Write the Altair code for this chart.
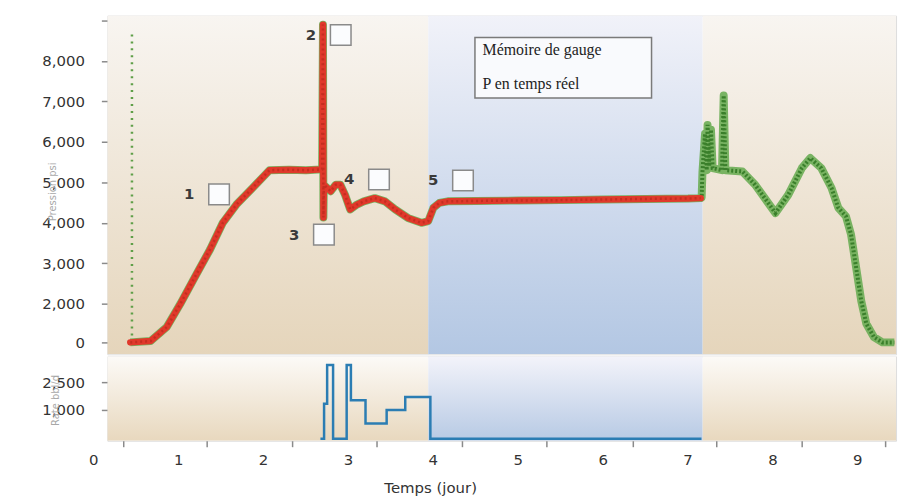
import altair as alt
import pandas as pd

# ---------------- data ----------------
# real-time pressure (red) : day, pressure
RED_D = [0.43, 0.67, 0.86, 1.02, 1.21, 1.37, 1.52, 1.68, 1.87, 2.07, 2.30, 2.50, 2.69,
         2.70, 2.705, 2.71, 2.79, 2.85, 2.905, 2.96, 3.02, 3.10, 3.18, 3.31, 3.43,
         3.55, 3.70, 3.86, 3.94, 4.00, 4.07, 4.17, 4.50, 5.00, 5.50, 6.00, 6.50, 7.00, 7.15]
RED_P = [0, 70, 790, 1990, 2730, 3340, 4000, 4450, 4860, 5300, 5310, 5300, 5320,
         8900, 4130, 4940, 4780, 4940, 4940, 4690, 4330, 4450, 4530, 4610, 4530,
         4330, 4120, 4000, 4040, 4370, 4490, 4530, 4540, 4550, 4560, 4575, 4590, 4600, 4610]
# gauge memory (green) continues after the real-time data stops
GREEN_TAIL_D = [7.16, 7.17, 7.20, 7.22, 7.23, 7.25, 7.27, 7.29, 7.40, 7.42, 7.44, 7.64, 7.79,
                8.03, 8.18, 8.34, 8.44, 8.57, 8.69, 8.77, 8.86, 8.92, 8.98, 9.04, 9.10,
                9.19, 9.29, 9.43]
GREEN_TAIL_P = [4620, 5270, 6200, 5300, 6420, 5400, 6300, 5350, 5300, 7150, 5300, 5270, 4940,
                4240, 4690, 5350, 5600, 5350, 4860, 4370, 4160, 3710, 2890, 2070, 960,
                270, 0, 0]
GREEN_START_D = [0.45, 0.45]
GREEN_START_P = [0, 8750]

# rate (bottom panel) step line
RATE_D = [2.67, 2.713, 2.749, 2.819, 2.979, 3.029, 3.201, 3.450, 3.669, 3.965, 7.158]
RATE_V = [0, 1337, 3427, 0, 3427, 1520, 528, 1000, 1696, 0, 0]

# shaded periods
REGION_X0 = [0.16, 3.94, 7.17]
REGION_X1 = [3.94, 7.17, 9.45]
REGION_KIND = ["beige", "blue", "beige"]

# numbered marker boxes
MARK_LABELS = ["1", "2", "3", "4", "5"]
MARK_D = [1.476, 2.909, 2.711, 3.360, 4.349]
MARK_P = [4702, 8644, 3707, 5070, 5045]

# legend box
LEGEND_LINES = ["Mémoire de gauge", "P en temps réel"]
LEGEND_TEXT_D = [4.58, 4.58]
LEGEND_TEXT_P = [8263, 7428]
LEGEND_BOX_D = [4.49, 6.57]
LEGEND_BOX_P = [7084, 8582]

# axes
X_MIN, X_MAX = 0.16, 9.45
X_LABELS = ["0", "1", "2", "3", "4", "5", "6", "7", "8", "9"]
X_LABEL_POS = [0, 1, 2, 3, 4, 5, 6, 7, 8, 9]
X_TICK_MARKS = [0.35, 1.33, 2.34, 3.33, 4.34, 5.33, 6.35, 7.33, 8.34, 9.32]
P_TICKS = [0, 2000, 3000, 4000, 5000, 6000, 7000, 8000, 9000]
P_TICK_LABELS = ["0", "2,000", "3,000", "4,000", "5,000", "6,000", "7,000", "8,000", ""]
R_TICKS = [1000, 2500]
R_TICK_LABELS = ["1,000", "2,500"]

# ---------------- layout ----------------
W = 794
H_TOP = 341
H_BOT = 85
FONT = "DejaVu Sans"

P_DOMAIN = [-615, 0, 2000, 9123]
P_RANGE = [H_TOP, 329, 290, 0]
R_DOMAIN = [-69, 0, 1000, 2500, 3893]
R_RANGE = [H_BOT, 83, 54, 26, 0]


def lookup_expr(values, labels):
    return ("[" + ",".join("'" + l + "'" for l in labels) + "][indexof(["
            + ",".join(str(v) for v in values) + "], datum.value)]")


x_scale = alt.Scale(domain=[X_MIN, X_MAX], nice=False, zero=False)
y_top_scale = alt.Scale(type="linear", domain=P_DOMAIN, range=P_RANGE, nice=False, zero=False)
y_bot_scale = alt.Scale(type="linear", domain=R_DOMAIN, range=R_RANGE, nice=False, zero=False)

y_top_axis = alt.Axis(values=P_TICKS, labelExpr=lookup_expr(P_TICKS, P_TICK_LABELS),
                      grid=False, domain=False, tickSize=6, tickColor="#8a8a8a", tickWidth=1.5,
                      labelFontSize=15, labelColor="#333333", labelPadding=17, labelFont=FONT,
                      minExtent=94, maxExtent=94,
                      title="Pression psi", titleX=-55, titleY=177, titleAngle=-90,
                      titleAlign="center", titleBaseline="middle", titleFontSize=10,
                      titleFontWeight="normal", titleColor="#a8a8a8", titleFont=FONT)
y_bot_axis = alt.Axis(values=R_TICKS, labelExpr=lookup_expr(R_TICKS, R_TICK_LABELS),
                      grid=False, domain=False, tickSize=6, tickColor="#8a8a8a", tickWidth=1.5,
                      labelFontSize=15, labelColor="#333333", labelPadding=17, labelFont=FONT,
                      minExtent=94, maxExtent=94,
                      title="Rate bbl/d", titleX=-52, titleY=44, titleAngle=-90,
                      titleAlign="center", titleBaseline="middle", titleFontSize=10,
                      titleFontWeight="normal", titleColor="#a8a8a8", titleFont=FONT)
x_bot_axis = alt.Axis(values=X_TICK_MARKS, labels=False, grid=False, domain=False,
                      tickSize=6, tickColor="#8a8a8a", tickWidth=1.5,
                      title="Temps (jour)", titleX=325, titleY=47, titleAlign="center",
                      titleBaseline="middle", titleFontSize=15, titleFontWeight="normal",
                      titleColor="#333333", titleFont=FONT)

# ---------------- frames ----------------
red_df = pd.DataFrame({"d": RED_D, "p": RED_P})
red_df["i"] = range(len(red_df))
green_df = pd.DataFrame({"d": RED_D + GREEN_TAIL_D, "p": RED_P + GREEN_TAIL_P})
green_df["i"] = range(len(green_df))
green_start_df = pd.DataFrame({"d": GREEN_START_D, "p": GREEN_START_P, "i": [0, 1]})
rate_df = pd.DataFrame({"d": RATE_D, "p": RATE_V})
region_df = pd.DataFrame({"x0": REGION_X0, "x1": REGION_X1, "kind": REGION_KIND})
mark_df = pd.DataFrame({"d": MARK_D, "p": MARK_P, "lab": MARK_LABELS})
legend_text_df = pd.DataFrame({"d": LEGEND_TEXT_D, "p": LEGEND_TEXT_P, "t": LEGEND_LINES})
legend_box_df = pd.DataFrame({"d": [LEGEND_BOX_D[0]], "d2": [LEGEND_BOX_D[1]],
                              "p": [LEGEND_BOX_P[0]], "p2": [LEGEND_BOX_P[1]]})
xlab_df = pd.DataFrame({"d": X_LABEL_POS, "lab": X_LABELS})


def grad(top, bottom):
    return alt.LinearGradient(gradient="linear", x1=0, x2=0, y1=0, y2=1,
                              stops=[alt.GradientStop(color=top, offset=0),
                                     alt.GradientStop(color=bottom, offset=1)])


def bg_layer(kind, fill, h, x_axis):
    return alt.Chart(region_df).transform_filter(alt.datum.kind == kind).mark_rect(
        fill=fill, clip=True).encode(
        x=alt.X("x0:Q", scale=x_scale, axis=x_axis),
        x2="x1:Q",
        y=alt.value(0), y2=alt.value(h))


XT = alt.X("d:Q", scale=x_scale, axis=None)
YT = alt.Y("p:Q", scale=y_top_scale, axis=y_top_axis)

top_layers = [
    bg_layer("beige", grad("#f8f5f1", "#e5d5bb"), H_TOP, None),
    bg_layer("blue", grad("#f1f2f9", "#b3c7e3"), H_TOP, None),
    alt.Chart(green_start_df).mark_line(color="#5f9f48", strokeWidth=2.5, strokeDash=[2, 5]).encode(
        x=XT, y=YT, order="i:Q"),
    alt.Chart(green_df).mark_line(color="#6cad55", strokeWidth=8, opacity=0.9,
                                  strokeJoin="round").encode(x=XT, y=YT, order="i:Q"),
    alt.Chart(green_df).mark_line(color="#3a7f2b", strokeWidth=4, strokeDash=[2, 2]).encode(
        x=XT, y=YT, order="i:Q"),
    alt.Chart(red_df).mark_line(color="#e0392b", strokeWidth=6.5, strokeJoin="round",
                                strokeCap="round").encode(x=XT, y=YT, order="i:Q"),
    alt.Chart(red_df).mark_line(color="#b8291d", strokeWidth=2.5, strokeDash=[2, 3],
                                opacity=0.7).encode(x=XT, y=YT, order="i:Q"),
    alt.Chart(legend_box_df).mark_rect(fill="#f9fafd", stroke="#7a7a7a", strokeWidth=1.5).encode(
        x=XT, x2="d2:Q", y=YT, y2="p2:Q"),
    alt.Chart(legend_text_df).mark_text(align="left", baseline="middle", font="Liberation Serif",
                                        fontSize=16, color="#222222").encode(
        x=XT, y=YT, text="t:N"),
    alt.Chart(mark_df).mark_square(size=430, filled=True, fill="#fbfcfe", stroke="#8a8a8a",
                                   strokeWidth=1.5, opacity=1).encode(x=XT, y=YT),
    alt.Chart(mark_df).mark_text(dx=-30, align="center", baseline="middle", font=FONT,
                                 fontSize=15, fontWeight="bold", color="#3a3a3a").encode(
        x=XT, y=YT, text="lab:N"),
]
top = alt.layer(*top_layers).properties(width=W, height=H_TOP)

XB = alt.X("d:Q", scale=x_scale, axis=x_bot_axis)
YB = alt.Y("p:Q", scale=y_bot_scale, axis=y_bot_axis)

bot_layers = [
    bg_layer("beige", grad("#fcfaf7", "#e8d8be"), H_BOT, x_bot_axis),
    bg_layer("blue", grad("#f3f3fa", "#b7cae4"), H_BOT, x_bot_axis),
    alt.Chart(rate_df).mark_line(color="#2b7db3", strokeWidth=2.5, interpolate="step-after").encode(
        x=XB, y=YB),
    alt.Chart(xlab_df).mark_text(align="center", baseline="middle", font=FONT, fontSize=15,
                                 color="#333333").encode(x=XB, y=alt.value(H_BOT + 19), text="lab:N"),
]
bottom = alt.layer(*bot_layers).properties(width=W, height=H_BOT)

chart = alt.vconcat(top, bottom, spacing=0).properties(
    padding={"left": 5, "top": 5, "right": 0, "bottom": 0}
).configure_view(stroke="#8d8d8d", strokeWidth=2).configure(font=FONT)

chart.save("out.html", embed_options={"renderer": "svg", "actions": False})
